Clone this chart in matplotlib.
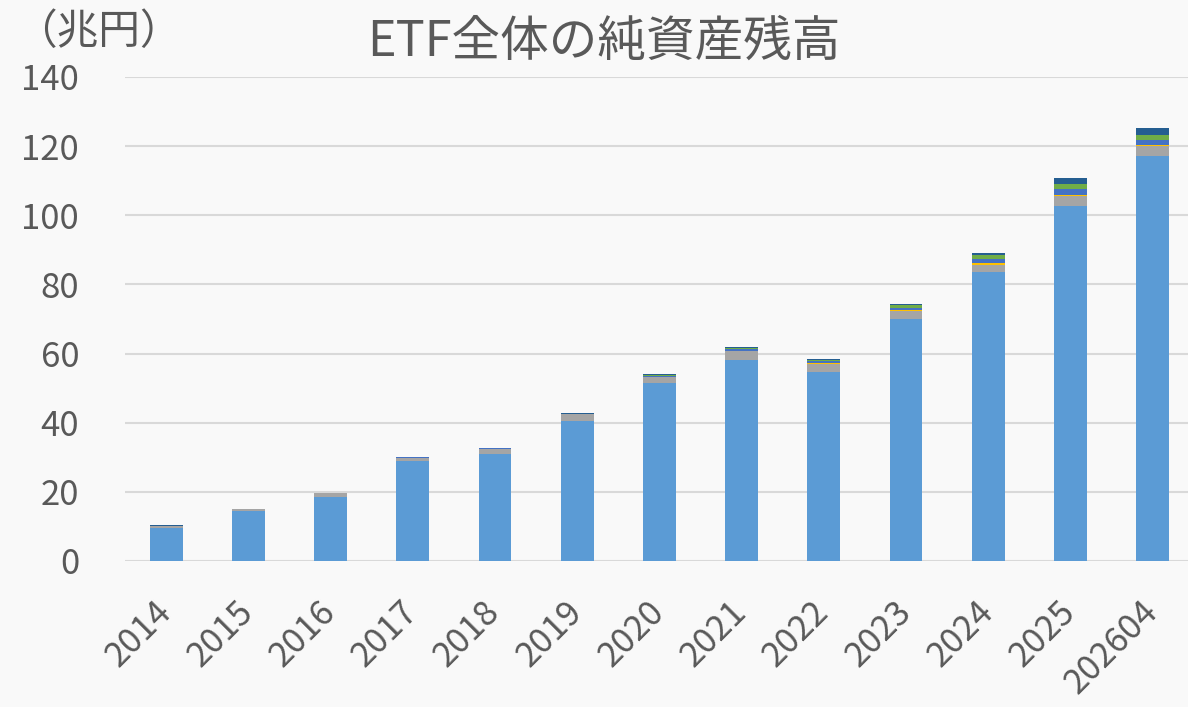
import matplotlib
matplotlib.use("Agg")
import matplotlib.pyplot as plt
import numpy as np

plt.rcParams['font.family'] = ['Noto Sans CJK JP', 'DejaVu Sans']

categories = ["2014", "2015", "2016", "2017", "2018", "2019", "2020",
              "2021", "2022", "2023", "2024", "2025", "202604"]
s_blue     = [9.6, 14.4, 18.5, 28.9, 31.0, 40.5, 51.6, 58.2, 54.8, 70.1, 83.6, 102.8, 117.2]
s_gray     = [0.6, 0.5, 1.1, 1.0, 1.4, 1.9, 1.7, 2.5, 2.3, 2.1, 2.1, 2.8, 2.7]
s_yellow   = [0.0, 0.0, 0.0, 0.0, 0.0, 0.0, 0.0, 0.0, 0.1, 0.3, 0.5, 0.3, 0.3]
s_darkblue = [0.0, 0.0, 0.0, 0.1, 0.2, 0.1, 0.3, 0.6, 0.6, 0.7, 1.1, 1.7, 1.7]
s_green    = [0.0, 0.0, 0.0, 0.0, 0.0, 0.1, 0.2, 0.3, 0.4, 0.8, 1.2, 1.4, 1.2]
s_navy     = [0.1, 0.1, 0.1, 0.2, 0.1, 0.1, 0.3, 0.2, 0.3, 0.45, 0.7, 1.7, 2.1]

series = [s_blue, s_gray, s_yellow, s_darkblue, s_green, s_navy]
colors = ["#5B9BD5", "#A5A5A5", "#FFC000", "#4472C4", "#70AD47", "#255E91"]

bg = "#F9F9F9"
txt = "#595959"

fig = plt.figure(figsize=(11.88, 7.07), dpi=100, facecolor=bg)
ax = fig.add_axes([125/1188, (707-561)/707, 1 - 125/1188, (561-77)/707])
ax.set_facecolor(bg)

x = np.arange(len(categories))
bottom = np.zeros(len(categories))
for vals, c in zip(series, colors):
    v = np.array(vals, dtype=float)
    ax.bar(x, v, width=0.4, bottom=bottom, color=c, zorder=3, linewidth=0)
    bottom += v

ax.set_ylim(0, 140)
ax.set_xlim(-0.5, 12.43)
ax.set_yticks(np.arange(0, 141, 20))
ax.yaxis.grid(True, color="#D9D9D9", linewidth=1.5, zorder=0)
ax.set_axisbelow(True)
for s in ax.spines.values():
    s.set_visible(False)
ax.tick_params(axis='y', length=0, colors=txt, labelsize=25, pad=33)
ax.set_xticks(x)
ax.set_xticklabels(categories, rotation=45, ha='right', va='center',
                   rotation_mode='anchor', fontsize=25, color=txt)
ax.tick_params(axis='x', length=0, pad=33)

fig.text(604/1188, 1 - 42/707, "ETF全体の純資産残高", ha='center', va='center',
         fontsize=35, color=txt)
fig.text(98/1188, 1 - 33/707, "（兆円）", ha='center', va='center',
         fontsize=30, color=txt)

fig.savefig("out.png", dpi=100, facecolor=bg)
